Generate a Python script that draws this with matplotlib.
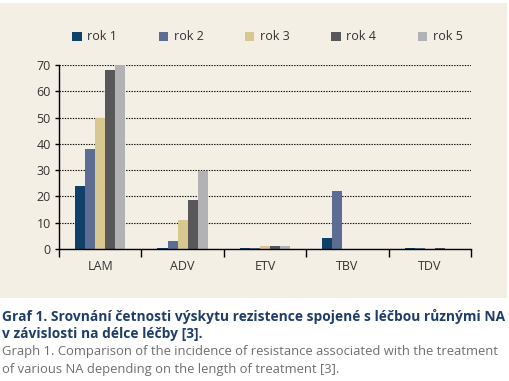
import matplotlib
matplotlib.use("Agg")
import matplotlib.pyplot as plt
import numpy as np
from matplotlib.patches import Rectangle

categories = ["LAM", "ADV", "ETV", "TBV", "TDV"]
series_names = ["rok 1", "rok 2", "rok 3", "rok 4", "rok 5"]
rok1 = [24, 0.5, 0.5, 4, 0.2]
rok2 = [38, 3, 0.5, 22.2, 0.2]
rok3 = [50, 11, 1.2, 0, 0.1]
rok4 = [68, 18.5, 1.2, 0, 0.2]
rok5 = [70, 29.5, 1.2, 0, 0.1]
series = [rok1, rok2, rok3, rok4, rok5]
colors = ["#0e4068", "#5d6c93", "#d8c88f", "#58585a", "#b2b2b4"]
yticks = [0, 10, 20, 30, 40, 50, 60, 70]

plt.rcParams['font.family'] = ['Open Sans', 'DejaVu Sans']

fig = plt.figure(figsize=(5.09, 3.81), dpi=100)
fig.patch.set_facecolor("white")
bg = Rectangle((0, 1 - 298 / 381), 507 / 509, (298 - 3) / 381, transform=fig.transFigure,
               facecolor="#f4efe5", edgecolor="none", zorder=-10)
fig.patches.append(bg)

ax = fig.add_axes([59 / 509, 1 - 249 / 381, (471 - 59) / 509, (249 - 65) / 381])
ax.set_zorder(1)
ax.set_facecolor("none")
x = np.arange(len(categories))
w = 0.122
for i, (vals, c, name) in enumerate(zip(series, colors, series_names)):
    ax.bar(x + (i - 2) * w, vals, width=w, color=c, label=name, zorder=3)

ax.set_xlim(-0.5, len(categories) - 0.5)
ax.set_ylim(0, 70)
ax.set_yticks(yticks)
ax.set_xticks(x)
ax.set_xticklabels(categories)
ax.set_xticks(np.arange(len(categories) + 1) - 0.5, minor=True)
ax.tick_params(axis="x", which="major", length=0, pad=8, labelsize=9)
ax.tick_params(axis="x", which="minor", length=6, width=1, direction="out", color="black")
ax.tick_params(axis="y", length=3, width=1, direction="out", labelsize=9, pad=3, color="black")
for t in ax.get_yticklabels() + ax.get_xticklabels():
    t.set_color("#333333")
ax.yaxis.grid(True, linestyle=(0, (1.2, 1.2)), color="black", linewidth=0.8, zorder=0)
ax.set_axisbelow(True)
for s in ["top", "right"]:
    ax.spines[s].set_visible(False)
ax.spines["left"].set_linewidth(1)
ax.spines["bottom"].set_linewidth(1)
ax.spines["bottom"].set_zorder(4)

leg = fig.legend(loc="center left", bbox_to_anchor=(61 / 509, 1 - 37 / 381), ncol=5,
                 frameon=False, handlelength=0.75, handleheight=0.75, handletextpad=0.45,
                 columnspacing=3.32, fontsize=9)
for t in leg.get_texts():
    t.set_color("#333333")

fig.text(2 / 509, 1 - 316 / 381, "Graf 1. Srovnání četnosti výskytu rezistence spojené s léčbou různými NA",
         fontsize=9.9, fontweight="bold", color="#1f3d6a", va="center", ha="left")
fig.text(2 / 509, 1 - 334 / 381, "v závislosti na délce léčby [3].",
         fontsize=9.9, fontweight="bold", color="#1f3d6a", va="center", ha="left")
fig.text(2 / 509, 1 - 352 / 381, "Graph 1. Comparison of the incidence of resistance associated with the treatment",
         fontsize=9.4, color="#6e6e6e", va="center", ha="left")
fig.text(2 / 509, 1 - 370 / 381, "of various NA depending on the length of treatment [3].",
         fontsize=9.4, color="#6e6e6e", va="center", ha="left")

fig.savefig("out.png", dpi=100)
